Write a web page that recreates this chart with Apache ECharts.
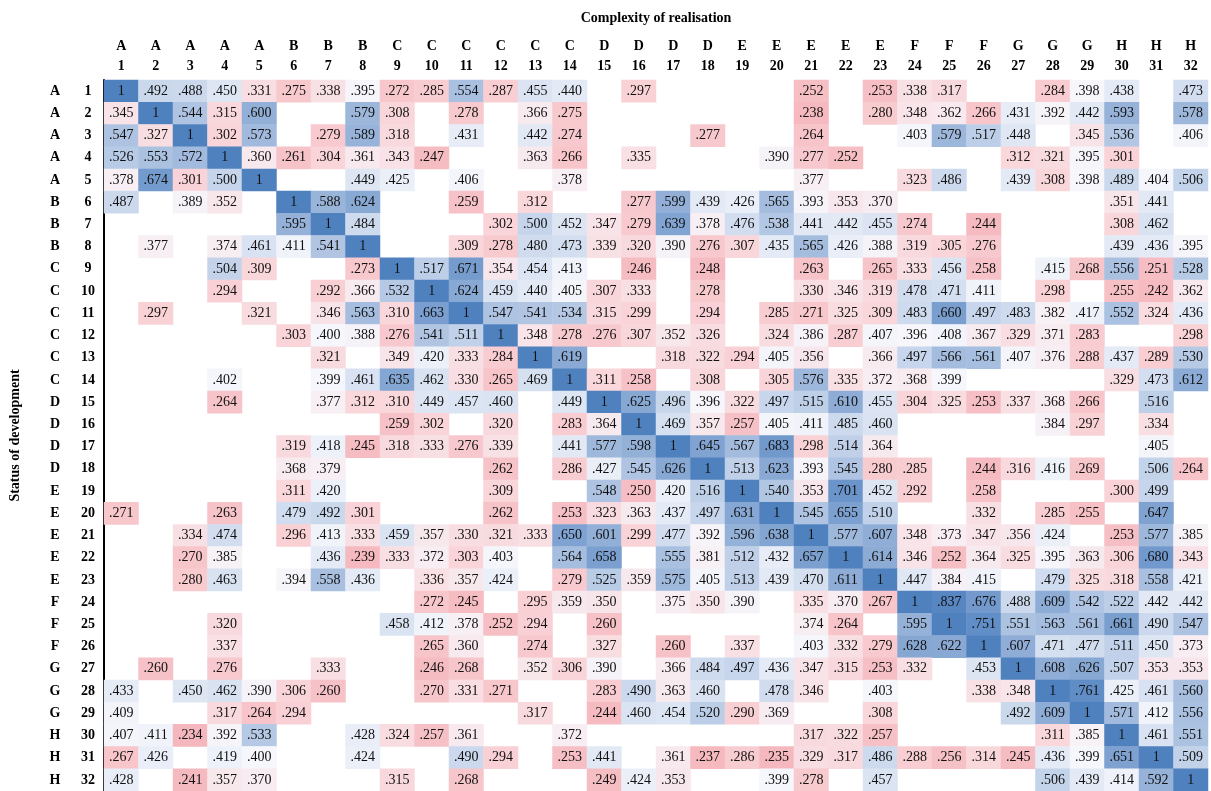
<!DOCTYPE html>
<html>
<head>
<meta charset="utf-8">
<title>Complexity of realisation</title>
<script src="https://cdn.jsdelivr.net/npm/echarts@6/dist/echarts.min.js"></script>
<style>
    html, body { margin: 0; padding: 0; background: #fff; }
    #chart { width: 1211px; height: 791px; }
</style>
</head>
<body>
<div id="chart"></div>
<script>
    // group letter for each of the 32 items (same order on both axes)
    var groups = ['A','A','A','A','A','B','B','B','C','C','C','C','C','C','D','D','D','D',
                  'E','E','E','E','E','F','F','F','G','G','G','H','H','H'];
    var itemNumbers = [];
    for (var k = 1; k <= 32; k++) itemNumbers.push(String(k));

    // rows = status of development, columns = complexity of realisation (null = blank cell)
    var _ = null;
    var values = [
        [1,.492,.488,.450,.331,.275,.338,.395,.272,.285,.554,.287,.455,.440,_,.297,_,_,_,_,.252,_,.253,.338,.317,_,_,.284,.398,.438,_,.473],
        [.345,1,.544,.315,.600,_,_,.579,.308,_,.278,_,.366,.275,_,_,_,_,_,_,.238,_,.280,.348,.362,.266,.431,.392,.442,.593,_,.578],
        [.547,.327,1,.302,.573,_,.279,.589,.318,_,.431,_,.442,.274,_,_,_,.277,_,_,.264,_,_,.403,.579,.517,.448,_,.345,.536,_,.406],
        [.526,.553,.572,1,.360,.261,.304,.361,.343,.247,_,_,.363,.266,_,.335,_,_,_,.390,.277,.252,_,_,_,_,.312,.321,.395,.301,_,_],
        [.378,.674,.301,.500,1,_,_,.449,.425,_,.406,_,_,.378,_,_,_,_,_,_,.377,_,_,.323,.486,_,.439,.308,.398,.489,.404,.506],
        [.487,_,.389,.352,_,1,.588,.624,_,_,.259,_,.312,_,_,.277,.599,.439,.426,.565,.393,.353,.370,_,_,_,_,_,_,.351,.441,_],
        [_,_,_,_,_,.595,1,.484,_,_,_,.302,.500,.452,.347,.279,.639,.378,.476,.538,.441,.442,.455,.274,_,.244,_,_,_,.308,.462,_],
        [_,.377,_,.374,.461,.411,.541,1,_,_,.309,.278,.480,.473,.339,.320,.390,.276,.307,.435,.565,.426,.388,.319,.305,.276,_,_,_,.439,.436,.395],
        [_,_,_,.504,.309,_,_,.273,1,.517,.671,.354,.454,.413,_,.246,_,.248,_,_,.263,_,.265,.333,.456,.258,_,.415,.268,.556,.251,.528],
        [_,_,_,.294,_,_,.292,.366,.532,1,.624,.459,.440,.405,.307,.333,_,.278,_,_,.330,.346,.319,.478,.471,.411,_,.298,_,.255,.242,.362],
        [_,.297,_,_,.321,_,.346,.563,.310,.663,1,.547,.541,.534,.315,.299,_,.294,_,.285,.271,.325,.309,.483,.660,.497,.483,.382,.417,.552,.324,.436],
        [_,_,_,_,_,.303,.400,.388,.276,.541,.511,1,.348,.278,.276,.307,.352,.326,_,.324,.386,.287,.407,.396,.408,.367,.329,.371,.283,_,_,.298],
        [_,_,_,_,_,_,.321,_,.349,.420,.333,.284,1,.619,_,_,.318,.322,.294,.405,.356,_,.366,.497,.566,.561,.407,.376,.288,.437,.289,.530],
        [_,_,_,.402,_,_,.399,.461,.635,.462,.330,.265,.469,1,.311,.258,_,.308,_,.305,.576,.335,.372,.368,.399,_,_,_,_,.329,.473,.612],
        [_,_,_,.264,_,_,.377,.312,.310,.449,.457,.460,_,.449,1,.625,.496,.396,.322,.497,.515,.610,.455,.304,.325,.253,.337,.368,.266,_,.516,_],
        [_,_,_,_,_,_,_,_,.259,.302,_,.320,_,.283,.364,1,.469,.357,.257,.405,.411,.485,.460,_,_,_,_,.384,.297,_,.334,_],
        [_,_,_,_,_,.319,.418,.245,.318,.333,.276,.339,_,.441,.577,.598,1,.645,.567,.683,.298,.514,.364,_,_,_,_,_,_,_,.405,_],
        [_,_,_,_,_,.368,.379,_,_,_,_,.262,_,.286,.427,.545,.626,1,.513,.623,.393,.545,.280,.285,_,.244,.316,.416,.269,_,.506,.264],
        [_,_,_,_,_,.311,.420,_,_,_,_,.309,_,_,.548,.250,.420,.516,1,.540,.353,.701,.452,.292,_,.258,_,_,_,.300,.499,_],
        [.271,_,_,.263,_,.479,.492,.301,_,_,_,.262,_,.253,.323,.363,.437,.497,.631,1,.545,.655,.510,_,_,.332,_,.285,.255,_,.647,_],
        [_,_,.334,.474,_,.296,.413,.333,.459,.357,.330,.321,.333,.650,.601,.299,.477,.392,.596,.638,1,.577,.607,.348,.373,.347,.356,.424,_,.253,.577,.385],
        [_,_,.270,.385,_,_,.436,.239,.333,.372,.303,.403,_,.564,.658,_,.555,.381,.512,.432,.657,1,.614,.346,.252,.364,.325,.395,.363,.306,.680,.343],
        [_,_,.280,.463,_,.394,.558,.436,_,.336,.357,.424,_,.279,.525,.359,.575,.405,.513,.439,.470,.611,1,.447,.384,.415,_,.479,.325,.318,.558,.421],
        [_,_,_,_,_,_,_,_,_,.272,.245,_,.295,.359,.350,_,.375,.350,.390,_,.335,.370,.267,1,.837,.676,.488,.609,.542,.522,.442,.442],
        [_,_,_,.320,_,_,_,_,.458,.412,.378,.252,.294,_,.260,_,_,_,_,_,.374,.264,_,.595,1,.751,.551,.563,.561,.661,.490,.547],
        [_,_,_,.337,_,_,_,_,_,.265,.360,_,.274,_,.327,_,.260,_,.337,_,.403,.332,.279,.628,.622,1,.607,.471,.477,.511,.450,.373],
        [_,.260,_,.276,_,_,.333,_,_,.246,.268,_,.352,.306,.390,_,.366,.484,.497,.436,.347,.315,.253,.332,_,.453,1,.608,.626,.507,.353,.353],
        [.433,_,.450,.462,.390,.306,.260,_,_,.270,.331,.271,_,_,.283,.490,.363,.460,_,.478,.346,_,.403,_,_,.338,.348,1,.761,.425,.461,.560],
        [.409,_,_,.317,.264,.294,_,_,_,_,_,_,.317,_,.244,.460,.454,.520,.290,.369,_,_,.308,_,_,_,.492,.609,1,.571,.412,.556],
        [.407,.411,.234,.392,.533,_,_,.428,.324,.257,.361,_,_,.372,_,_,_,_,_,_,.317,.322,.257,_,_,_,_,.311,.385,1,.461,.551],
        [.267,.426,_,.419,.400,_,_,.424,_,_,.490,.294,_,.253,.441,_,.361,.237,.286,.235,.329,.317,.486,.288,.256,.314,.245,.436,.399,.651,1,.509],
        [.428,_,.241,.357,.370,_,_,_,.315,_,.268,_,_,_,.249,.424,.353,_,_,.399,.278,_,.457,_,_,_,_,.506,.439,.414,.592,1]
    ];

    var serif = '"Liberation Serif", "DejaVu Serif", serif';

    var cells = [];
    values.forEach(function (row, r) {
        row.forEach(function (v, c) {
            if (v !== null) cells.push([c, r, v]);
        });
    });

    var chart = echarts.init(document.getElementById('chart'));
    chart.setOption({
        animation: false,
        grid: {
            left: 104,
            right: 3,
            top: 80,
            bottom: 0
        },
        xAxis: {
            type: 'category',
            position: 'top',
            data: itemNumbers,
            name: 'Complexity of realisation',
            nameLocation: 'middle',
            nameGap: 55,
            nameTextStyle: { fontFamily: serif, fontWeight: 'bold', fontSize: 14, color: '#000' },
            axisLine: { show: false },
            axisTick: { show: false },
            splitLine: { show: false },
            axisLabel: {
                interval: 0,
                margin: 4,
                fontFamily: serif,
                fontWeight: 'bold',
                fontSize: 14,
                color: '#000',
                lineHeight: 20,
                formatter: function (val, idx) {
                    return groups[idx] + '\n' + val;
                }
            }
        },
        yAxis: {
            type: 'category',
            inverse: true,
            data: itemNumbers,
            name: 'Status of development',
            nameLocation: 'middle',
            nameGap: 82,
            nameRotate: 90,
            nameTextStyle: { fontFamily: serif, fontWeight: 'bold', fontSize: 14, color: '#000' },
            axisLine: { show: true, lineStyle: { color: '#000', width: 2 } },
            axisTick: { show: false },
            splitLine: { show: false },
            axisLabel: {
                interval: 0,
                margin: 1,
                formatter: function (val, idx) {
                    return '{l|' + groups[idx] + '}{n|' + val + '}';
                },
                rich: {
                    l: { width: 36, align: 'center', fontFamily: serif, fontWeight: 'bold', fontSize: 14, color: '#000' },
                    n: { width: 30, align: 'center', fontFamily: serif, fontWeight: 'bold', fontSize: 14, color: '#000' }
                }
            }
        },
        visualMap: {
            show: false,
            min: 0.2,
            max: 1,
            calculable: false,
            inRange: {
                color: ['#f2a9b0', '#f9d3d7', '#f6f7fc', '#c6d5eb', '#92afd7', '#6a94ca', '#5a88c4', '#5283c1', '#4f81bf']
            }
        },
        series: [
            {
                type: 'heatmap',
                data: cells,
                label: {
                    show: true,
                    fontFamily: serif,
                    fontSize: 14,
                    color: '#111',
                    formatter: function (p) {
                        var v = p.value[2];
                        return v === 1 ? '1' : v.toFixed(3).replace(/^0/, '');
                    }
                },
                itemStyle: { borderWidth: 0 },
                emphasis: { disabled: true }
            }
        ]
    });
</script>
</body>
</html>
